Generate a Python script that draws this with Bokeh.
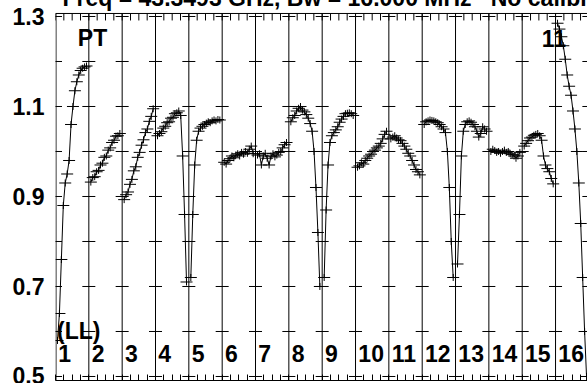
import numpy as np
from bokeh.plotting import figure
from bokeh.models import Range1d, LinearAxis, FixedTicker, Label
from bokeh.core.properties import value
from bokeh.embed import file_html
from bokeh.resources import INLINE

# ---------------- data ----------------
if_numbers = list(range(1, 17))
if_labels = [str(i) for i in if_numbers]
n_chan = 16

if01 = [0.58, 0.64, 0.76, 0.88, 0.93, 0.95, 0.98, 1.06, 1.10, 1.135, 1.155, 1.17, 1.18, 1.185, 1.188, 1.19]
if02 = [0.932, 0.942, 0.944, 0.955, 0.958, 0.970, 0.974, 0.987, 0.990, 1.003, 1.008, 1.020, 1.025, 1.034, 1.035, 1.040]
if03 = [0.893, 0.904, 0.910, 0.927, 0.938, 0.957, 0.966, 0.987, 0.998, 1.014, 1.026, 1.042, 1.050, 1.067, 1.078, 1.095]
if04 = [1.035, 1.040, 1.044, 1.052, 1.056, 1.064, 1.066, 1.074, 1.076, 1.084, 1.086, 1.090, 1.080, 0.990, 0.860, 0.710]
if05 = [0.720, 0.860, 0.970, 1.025, 1.045, 1.052, 1.056, 1.060, 1.063, 1.066, 1.064, 1.068, 1.070, 1.068, 1.071, 1.070]
if06 = [0.976, 0.972, 0.980, 0.984, 0.990, 0.986, 0.992, 0.995, 0.990, 0.998, 0.994, 1.000, 0.996, 1.005, 1.012, 0.995]
if07 = [0.992, 0.995, 0.970, 0.990, 0.996, 0.985, 0.970, 0.990, 0.995, 0.988, 0.992, 0.998, 1.000, 1.008, 1.015, 1.020]
if08 = [1.066, 1.075, 1.080, 1.090, 1.096, 1.100, 1.092, 1.088, 1.082, 1.074, 1.062, 1.045, 1.000, 0.920, 0.820, 0.700]
if09 = [0.720, 0.870, 0.970, 1.020, 1.035, 1.042, 1.048, 1.055, 1.065, 1.072, 1.078, 1.084, 1.085, 1.086, 1.084, 1.080]
if10 = [0.965, 0.968, 0.975, 0.972, 0.980, 0.985, 0.990, 0.994, 1.000, 1.003, 1.008, 1.012, 1.018, 1.028, 1.038, 1.045]
if11 = [1.028, 1.032, 1.035, 1.030, 1.026, 1.024, 1.018, 1.012, 1.005, 0.996, 0.990, 0.980, 0.970, 0.960, 0.955, 0.948]
if12 = [1.060, 1.066, 1.068, 1.070, 1.069, 1.068, 1.066, 1.064, 1.060, 1.055, 1.050, 1.042, 1.000, 0.920, 0.800, 0.720]
if13 = [0.750, 0.860, 0.990, 1.045, 1.060, 1.066, 1.068, 1.065, 1.060, 1.055, 1.045, 1.032, 1.040, 1.055, 1.050, 1.045]
if14 = [1.000, 1.005, 1.002, 0.998, 1.000, 0.996, 1.000, 1.003, 0.998, 1.000, 0.995, 0.993, 0.990, 0.985, 0.990, 0.998]
if15 = [1.012, 1.018, 1.024, 1.030, 1.032, 1.036, 1.038, 1.040, 1.035, 1.025, 0.990, 0.970, 0.962, 0.955, 0.940, 0.928]
if16 = [1.285, 1.272, 1.255, 1.235, 1.205, 1.170, 1.145, 1.125, 1.090, 1.050, 1.000, 0.930, 0.840, 0.720, 0.600, 0.500]
bandpass = [if01, if02, if03, if04, if05, if06, if07, if08,
            if09, if10, if11, if12, if13, if14, if15, if16]

y_ticks = [0.5, 0.7, 0.9, 1.1, 1.3]
y_tick_labels = ["0.5", "0.7", "0.9", "1.1", "1.3"]
grid_levels = [0.5, 0.6, 0.7, 0.8, 0.9, 1.0, 1.1, 1.2, 1.3]

title_text = "Freq = 43.3493 GHz, Bw = 16.000 MHz\u00a0\u00a0\u00a0No calibration"
antenna_text = "PT"
corner_text = "11"
stokes_text = "(LL)"

# ---------------- styling ----------------
FONT = "Liberation Sans"
FSIZE = "23px"
PX_PER_UNIT = 450.0          # vertical scale of the frame
X0, X1 = 1.0, 16.959         # visible part of the 16 IFs
Y0 = 0.4911                  # bottom of the box
Y_BOX = 1.3067               # top of the box
Y_VIEW = 1.3533              # top of the canvas (title lives above the box)
TEXT_UP = 8 / PX_PER_UNIT

p = figure(width=587, height=391,
           x_range=Range1d(X0, X1), y_range=Range1d(Y0, Y_VIEW),
           output_backend="svg", toolbar_location=None,
           x_axis_location=None, y_axis_location=None,
           min_border_left=55, min_border_right=0,
           min_border_top=0, min_border_bottom=3,
           outline_line_color=None,
           background_fill_color="white", border_fill_color="white",
           styles={"position": "absolute", "top": "-8px", "left": "0px"})
for g in p.grid:
    g.visible = False

left = LinearAxis(ticker=FixedTicker(ticks=y_ticks),
                  major_label_overrides=dict(zip(y_ticks, y_tick_labels)),
                  major_tick_in=0, major_tick_out=0,
                  minor_tick_in=0, minor_tick_out=0,
                  major_label_standoff=11,
                  major_label_text_font=FONT,
                  major_label_text_font_style="bold",
                  major_label_text_font_size=FSIZE,
                  major_label_text_color="black",
                  axis_line_color=None)
p.add_layout(left, "left")

quarter_ticks = [1 + 0.25 * i for i in range(0, 65)]
bottom = LinearAxis(ticker=FixedTicker(ticks=quarter_ticks),
                    major_tick_in=6, major_tick_out=0,
                    minor_tick_in=0, minor_tick_out=0,
                    major_label_standoff=0,
                    major_label_text_font_size="0px",
                    major_label_text_color=None,
                    axis_line_color="black", axis_line_width=1,
                    major_tick_line_color="black")
p.add_layout(bottom, "below")

# box: top edge, left edge, top ticks
p.segment(x0=[X0], y0=[Y_BOX], x1=[X1], y1=[Y_BOX], line_color="black", line_width=1)
x_left = X0 + 0.5 / 33.336
p.segment(x0=[x_left], y0=[Y0], x1=[x_left], y1=[Y_BOX], line_color="black", line_width=1)
tick_len = 7 / PX_PER_UNIT
p.segment(x0=quarter_ticks, y0=[Y_BOX] * len(quarter_ticks),
          x1=quarter_ticks, y1=[Y_BOX - tick_len] * len(quarter_ticks),
          line_color="black", line_width=1)

# IF separator lines
sep = list(range(2, 18))
p.segment(x0=sep, y0=[Y0] * len(sep), x1=sep, y1=[Y_BOX] * len(sep),
          line_color="black", line_width=1)

# cross ticks on every separator (and the box edge)
cx, cy = [], []
for k in range(1, 18):
    for v in grid_levels:
        cx.append(k)
        cy.append(v)
p.scatter(cx, cy, marker="dash", size=13, line_color="black", line_width=1)

# bandpass data
offsets = np.linspace(0.06, 0.93, n_chan)
xs, ys = [], []
for ifn, vals in zip(if_numbers, bandpass):
    xs.append(list(ifn + offsets))
    ys.append(vals)
p.multi_line(xs, ys, line_color="black", line_width=1)
fx = [x for row in xs for x in row]
fy = [y for row in ys for y in row]
p.scatter(fx, fy, marker="dash", size=12, line_color="black", line_width=1)
p.scatter(fx, fy, marker="dash", size=7, angle=np.pi / 2,
          line_color="black", line_width=1)

# IF numbers
p.text(x=[i + 0.085 for i in if_numbers], y=[0.5333 + TEXT_UP] * len(if_numbers),
       text=if_labels, text_font=value(FONT), text_font_style="bold",
       text_font_size=FSIZE, text_color="black",
       text_baseline="alphabetic", text_align="left")

def lab(x, y, t):
    p.add_layout(Label(x=x, y=y + TEXT_UP, text=t, text_font=FONT,
                       text_font_style="bold", text_font_size=FSIZE,
                       text_color="black", text_baseline="alphabetic",
                       text_align="left"))

lab(1.21, 1.3233, title_text)
lab(1.669, 1.2344, antenna_text)
lab(15.588, 1.2344, corner_text)
lab(1.045, 0.5844, stokes_text)

open("out.html", "w").write(file_html(p, INLINE))
